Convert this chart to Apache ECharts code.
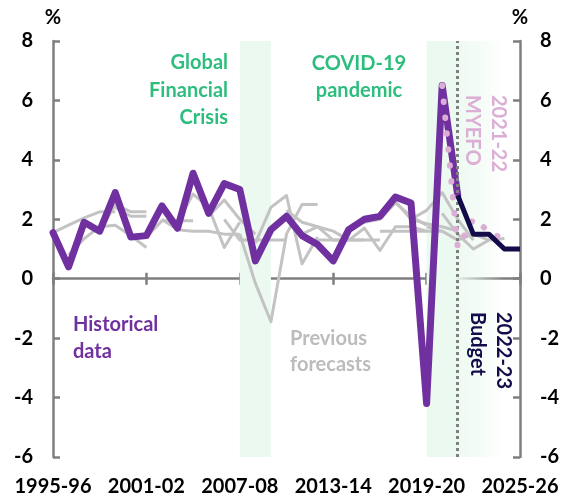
<!DOCTYPE html>
<html>
<head>
<meta charset="utf-8">
<script src="https://cdn.jsdelivr.net/npm/echarts@6/dist/echarts.min.js"></script>
<style>
  html, body { margin: 0; padding: 0; background: #ffffff; }
  #chart { width: 573px; height: 501px; }
</style>
</head>
<body>
<div id="chart"></div>
<script>
// Financial years on the horizontal axis
const years = [
  '1995-96', '1996-97', '1997-98', '1998-99', '1999-00', '2000-01', '2001-02',
  '2002-03', '2003-04', '2004-05', '2005-06', '2006-07', '2007-08', '2008-09',
  '2009-10', '2010-11', '2011-12', '2012-13', '2013-14', '2014-15', '2015-16',
  '2016-17', '2017-18', '2018-19', '2019-20', '2020-21', '2021-22', '2022-23',
  '2023-24', '2024-25', '2025-26'
];

// Vertical axis ticks (%)
const yTicks = { min: -6, max: 8, step: 2 };

// Historical outcomes, 1995-96 to 2021-22 (%)
const historical = [
  1.55, 0.4, 1.9, 1.6, 2.9, 1.4, 1.45, 2.45, 1.7, 3.55, 2.2, 3.2, 3.0, 0.6,
  1.65, 2.1, 1.45, 1.15, 0.6, 1.65, 2.0, 2.1, 2.75, 2.55, -4.2, 6.5, 2.8
];

// 2022-23 Budget, from 2021-22
const budgetStart = '2021-22';
const budget2223 = [2.8, 1.5, 1.5, 1.0, 1.0];

// 2021-22 MYEFO, from 2020-21
const myefoStart = '2020-21';
const myefo2122 = [6.5, 1.05, 2.0, 1.6, 1.3];

// Earlier forecast rounds: first year, then the forecast path
const previousForecasts = [
  ['1995-96', [1.55, 1.8, 2.05, 2.25, 2.25]],
  ['1996-97', [0.8, 1.35, 1.75, 1.8, 1.45, 1.05]],
  ['1998-99', [1.6, 2.5, 2.25, 2.25]],
  ['1999-00', [2.4, 2.1, 2.1]],
  ['2001-02', [1.4, 1.95, 1.95, 1.95]],
  ['2002-03', [2.0, 1.65, 1.6, 1.6, 1.5, 1.5]],
  ['2003-04', [1.9, 2.85, 2.4, 1.05, 1.9]],
  ['2005-06', [2.1, 2.65, 2.0, 1.5]],
  ['2006-07', [2.0, 1.3, 1.3, 1.3, 1.3]],
  ['2007-08', [1.5, -0.15, -1.45, 1.5, 2.5, 2.5]],
  ['2008-09', [1.2, 2.4, 2.8, 0.5, 1.4]],
  ['2010-11', [2.3, 1.9, 1.75, 1.6, 1.3]],
  ['2011-12', [1.5, 1.75, 1.3, 1.3, 1.3]],
  ['2012-13', [1.3, 1.3, 1.3, 1.3, 1.3]],
  ['2014-15', [1.3, 1.7, 0.95, 1.75, 1.75, 1.6]],
  ['2015-16', [1.9, 2.0, 2.55, 2.1, 1.8]],
  ['2016-17', [1.6, 1.6, 1.6, 1.6, 1.6]],
  ['2017-18', [2.6, 2.0, 1.85, 1.75, 1.6]],
  ['2018-19', [2.0, 2.3, 2.9, 2.0, 1.3]],
  ['2019-20', [1.75, 1.6, 1.3, 1.5, 1.3]],
  ['2020-21', [2.2, 1.5, 1.0, 1.3, 1.35]]
];

// Shaded episodes
const gfcBand = ['2007-08', '2009-10'];
const covidBand = ['2019-20', '2024-25'];
const forecastDivider = '2021-22';

// Lay a path onto the full year axis, leaving gaps elsewhere
function placeOnYears(start, values) {
  const first = years.indexOf(start);
  return years.map((_, k) =>
    k >= first && k < first + values.length ? values[k - first] : null);
}

const FONT = 'Lato';
const AXIS_GREY = '#7f7f7f';
const GREEN = '#2dbd7d';
const PURPLE = '#7030a0';
const NAVY = '#130c4a';
const PINK = '#dcaed5';
const GREY = '#c3c3c3';
const BAND = '#ebf9f0';

const chart = echarts.init(document.getElementById('chart'), null, { renderer: 'canvas' });

const labelStyle = { fontFamily: FONT, fontWeight: 'bold', fontSize: 20, color: '#000' };
const tickLine = { color: AXIS_GREY, width: 2.5 };

const yAxisBase = {
  type: 'value',
  min: yTicks.min,
  max: yTicks.max,
  interval: yTicks.step,
  name: '%',
  nameLocation: 'end',
  nameGap: 13,
  nameTextStyle: { fontFamily: FONT, fontWeight: 'bold', fontSize: 20, color: '#000' },
  axisLine: { show: true, onZero: false, lineStyle: tickLine },
  axisTick: { show: true, inside: true, length: 7, lineStyle: tickLine },
  axisLabel: Object.assign({ margin: 20 }, labelStyle),
  splitLine: { show: false }
};

// Year axis: labels along the bottom edge; the zero line carries ticks on both sides
const xAxisBase = {
  type: 'category',
  data: years,
  boundaryGap: false,
  splitLine: { show: false }
};

const greySeries = previousForecasts.map(([start, values]) => ({
  type: 'line',
  data: placeOnYears(start, values),
  symbol: 'none',
  silent: true,
  z: 2,
  lineStyle: { color: GREY, width: 3, join: 'round' }
}));

const option = {
  animation: false,
  backgroundColor: '#ffffff',
  grid: {
    left: 53, right: 53, top: 41, bottom: 44,
    containLabel: false,
    outerBoundsMode: 'none'
  },
  xAxis: [
    Object.assign({}, xAxisBase, {
      position: 'bottom',
      axisLine: { show: false, onZero: false },
      axisTick: { show: false },
      axisLabel: Object.assign({ interval: 5, margin: 20 }, labelStyle)
    }),
    Object.assign({}, xAxisBase, {
      position: 'bottom',
      axisLine: { show: true, onZero: true, lineStyle: tickLine },
      axisTick: { show: true, interval: 5, length: 6, lineStyle: tickLine },
      axisLabel: { show: false }
    }),
    Object.assign({}, xAxisBase, {
      position: 'top',
      axisLine: { show: false, onZero: true },
      axisTick: { show: true, interval: 5, length: 6, lineStyle: tickLine },
      axisLabel: { show: false }
    })
  ],
  yAxis: [
    Object.assign({}, yAxisBase, { position: 'left' }),
    Object.assign({}, yAxisBase, { position: 'right' })
  ],
  series: [
    // Background shading and the forecast divider
    {
      type: 'line',
      data: [],
      z: -1,
      silent: true,
      markArea: {
        silent: true,
        label: { show: false },
        data: [
          [{ xAxis: gfcBand[0], itemStyle: { color: BAND } }, { xAxis: gfcBand[1] }],
          [{
            xAxis: covidBand[0],
            itemStyle: {
              color: new echarts.graphic.LinearGradient(0, 0, 1, 0, [
                { offset: 0, color: BAND },
                { offset: 0.35, color: BAND },
                { offset: 1, color: 'rgba(235,249,240,0)' }
              ])
            }
          }, { xAxis: covidBand[1] }]
        ]
      },
      markLine: {
        silent: true,
        symbol: 'none',
        label: { show: false },
        lineStyle: { color: AXIS_GREY, width: 3, type: [3, 3] },
        data: [{ xAxis: forecastDivider }]
      }
    },
    ...greySeries,
    {
      name: 'Historical data',
      type: 'line',
      data: placeOnYears(years[0], historical),
      symbol: 'none',
      z: 4,
      lineStyle: { color: PURPLE, width: 7, join: 'round', cap: 'round' }
    },
    {
      name: '2021-22 MYEFO',
      type: 'line',
      data: placeOnYears(myefoStart, myefo2122),
      symbol: 'none',
      z: 5,
      lineStyle: { color: PINK, width: 6, type: [0.5, 15.5], cap: 'round' }
    },
    {
      name: '2022-23 Budget',
      type: 'line',
      data: placeOnYears(budgetStart, budget2223),
      symbol: 'none',
      z: 6,
      lineStyle: { color: NAVY, width: 5, join: 'round' }
    }
  ],
  graphic: [
    {
      type: 'text', x: 228, y: 90.5, silent: true, z: 100,
      style: { text: 'Global\nFinancial\nCrisis', fill: GREEN, font: 'bold 20px ' + FONT,
               align: 'right', verticalAlign: 'middle', lineHeight: 27.5 }
    },
    {
      type: 'text', x: 359, y: 77, silent: true, z: 100,
      style: { text: 'COVID-19\npandemic', fill: GREEN, font: 'bold 20px ' + FONT,
               align: 'center', verticalAlign: 'middle', lineHeight: 27.5 }
    },
    {
      type: 'text', x: 73, y: 338.5, silent: true, z: 100,
      style: { text: 'Historical\ndata', fill: PURPLE, font: 'bold 20px ' + FONT,
               align: 'left', verticalAlign: 'middle', lineHeight: 27 }
    },
    {
      type: 'text', x: 290, y: 352, silent: true, z: 100,
      style: { text: 'Previous\nforecasts', fill: '#bcbcbc', font: 'bold 20px ' + FONT,
               align: 'left', verticalAlign: 'middle', lineHeight: 26 }
    },
    {
      type: 'text', x: 485, y: 95, rotation: -Math.PI / 2, silent: true, z: 100,
      style: { text: '2021-22\nMYEFO', fill: PINK, font: 'bold 20px ' + FONT,
               align: 'left', verticalAlign: 'middle', lineHeight: 26 }
    },
    {
      type: 'text', x: 490, y: 312, rotation: -Math.PI / 2, silent: true, z: 100,
      style: { text: '2022-23\nBudget', fill: NAVY, font: 'bold 20px ' + FONT,
               align: 'left', verticalAlign: 'middle', lineHeight: 26 }
    }
  ]
};

chart.setOption(option);
</script>
</body>
</html>
